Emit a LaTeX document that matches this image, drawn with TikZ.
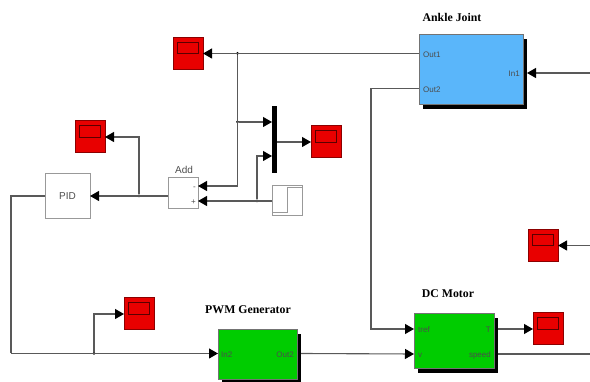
\documentclass[tikz,border=0pt]{standalone}
\usepackage{fontspec}
\setmainfont{Liberation Serif}
\setsansfont{Liberation Sans}
\usepackage{tikz}
\usetikzlibrary{positioning,arrows.meta,shadows}
\definecolor{scopered}{RGB}{232,0,0}
\definecolor{jointblue}{RGB}{90,182,250}
\definecolor{motorgreen}{RGB}{0,204,0}

\begin{document}
\begin{tikzpicture}[
  x=1pt, y=-1pt,
  font=\fontsize{8}{9}\selectfont\sffamily,
  block/.style={draw=black!55, line width=1pt, inner sep=0pt, outer sep=0pt},
  plainblk/.style={block, draw=black!40, fill=white, text=black!70, font=\fontsize{10}{11}\selectfont\sffamily},
  subsys/.style={block, drop shadow={shadow xshift=4pt, shadow yshift=-4pt, fill=black, opacity=1}},
  scopeblk/.style={block, draw=red!55!black, fill=scopered, minimum width=30pt, minimum height=32pt,
    path picture={\draw[red!35!black, line width=0.9pt]
      ([xshift=4.5pt,yshift=-4.5pt]path picture bounding box.north west) rectangle
      ([xshift=-4.5pt,yshift=-16pt]path picture bounding box.north east);}},
  stepblk/.style={plainblk, minimum size=30pt,
    path picture={\draw[black!40, line width=0.9pt]
      ([yshift=3.5pt]path picture bounding box.south west) -- ++(15,0) |- ([yshift=-1.5pt]path picture bounding box.north east);}},
  title/.style={font=\fontsize{11.8}{13}\selectfont\rmfamily\bfseries, inner sep=0pt},
  port/.style={inner sep=0pt, text=black!70, text height=8.5pt, text depth=1pt},
  dot/.style={circle, fill=black, inner sep=0pt, minimum size=3pt},
  wire/.style={draw=black!65, line width=1.1pt},
  fleche/.style={wire, -{Triangle[length=9pt, width=10pt, color=black]}},
  node distance=5mm and 7mm]

\useasboundingbox (0,0) rectangle (590,382);

% left side
\node[plainblk, minimum size=45pt] (pid) at (67.5,196) {PID};
\node[plainblk, minimum width=30pt, minimum height=31pt] (add) at (183,193.5) {};
\node[anchor=south, inner sep=0pt, text=black!70, font=\fontsize{10}{11}\selectfont\sffamily] (addlbl) at (184,174) {Add};
\node[port, anchor=east] (addm) at (196,186) {-};
\node[port, anchor=east] (addp) at (196,201) {+};
\node[scopeblk] (scopea) at (188,53.5) {};
\node[scopeblk] (scopeb) at (90,137) {};
\node[scopeblk] (scoped) at (139,314) {};

% mux and step
\node[fill=black, inner sep=0pt, outer sep=0pt, minimum width=5pt, minimum height=67pt] (mux) at (274.5,139.5) {};
\node[scopeblk, right=34pt of mux, yshift=-2.5pt] (scopec) {};
\node[stepblk] (stepin) at (287,201) {};

% ankle joint
\node[subsys, fill=jointblue, minimum width=104pt, minimum height=70pt] (ankle) at (471,70) {};
\node[title] (anklelbl) at (452,17) {Ankle Joint};
\node[port, anchor=west] (out1) at (423,53.5) {Out1};
\node[port, anchor=west] (out2) at (423,88.5) {Out2};
\node[port, anchor=east] (in1) at (520,73) {In1};

% pwm and motor
\node[subsys, fill=motorgreen, minimum width=79pt, minimum height=50pt] (pwm) at (257.5,355) {};
\node[title] (pwmlbl) at (248,310) {PWM Generator};
\node[port, anchor=west] (in2) at (221,353.5) {In2};
\node[port, anchor=east] (outb) at (294,353.5) {Out2};
\node[subsys, fill=motorgreen, minimum width=80pt, minimum height=55pt] (motor) at (454,341.5) {};
\node[title] (motorlbl) at (448,294) {DC Motor};
\node[port, anchor=west] (tref) at (418,329) {tref};
\node[port, anchor=west] (vin) at (418,354) {v};
\node[port, anchor=east] (tout) at (491,329) {T};
\node[port, anchor=east] (speed) at (491,354) {speed};
\node[scopeblk] (scopee) at (548,329) {};
\node[scopeblk] (scopef) at (543,245.5) {};

% junctions
\node[dot] (ja) at (237.5,53.5) {};
\node[dot] (jb) at (237.5,122) {};
\node[dot] (jc) at (257,201) {};
\node[dot] (jd) at (139,196) {};
\node[dot] (je) at (94,353.5) {};
\coordinate (inr) at (590,73);
\coordinate (scoper) at (590,245.5);
\coordinate (speedr) at (590,354);
\coordinate (corl) at (11,353.5);
\coordinate (corr) at (371,88.5);
\coordinate (corm) at (257,156);

\draw[fleche] (ankle.west |- out1) -- (scopea.east);
\draw[fleche] (ja) |- (add.east |- addm);
\draw[fleche] (jb) -- (mux.west |- jb);
\draw[fleche] (mux.east |- scopec) -- (scopec.west);
\draw[fleche] (stepin.west) -- (add.east |- addp);
\draw[fleche] (jc) |- (corm) -- (mux.west |- corm);
\draw[fleche] (add.west |- pid) -- (pid.east);
\draw[fleche] (jd) |- (scopeb.east);
\draw[wire] (pid.west) -| (corl);
\draw[fleche] (corl) -- (pwm.west |- in2);
\draw[fleche] (je) |- (scoped.west);
\draw[fleche] ([xshift=4pt]pwm.east |- outb) -- (motor.west |- vin);
\draw[wire] (ankle.west |- out2) -- (corr);
\draw[fleche] (corr) |- (motor.west |- tref);
\draw[fleche] ([xshift=4pt]motor.east |- tout) -- (scopee.west);
\draw[wire] ([xshift=4pt]motor.east |- speed) -- (speedr);
\draw[fleche] (scoper) -- (scopef.east);
\draw[fleche] (inr) -- ([xshift=4pt]ankle.east |- in1);
\end{tikzpicture}
\end{document}
